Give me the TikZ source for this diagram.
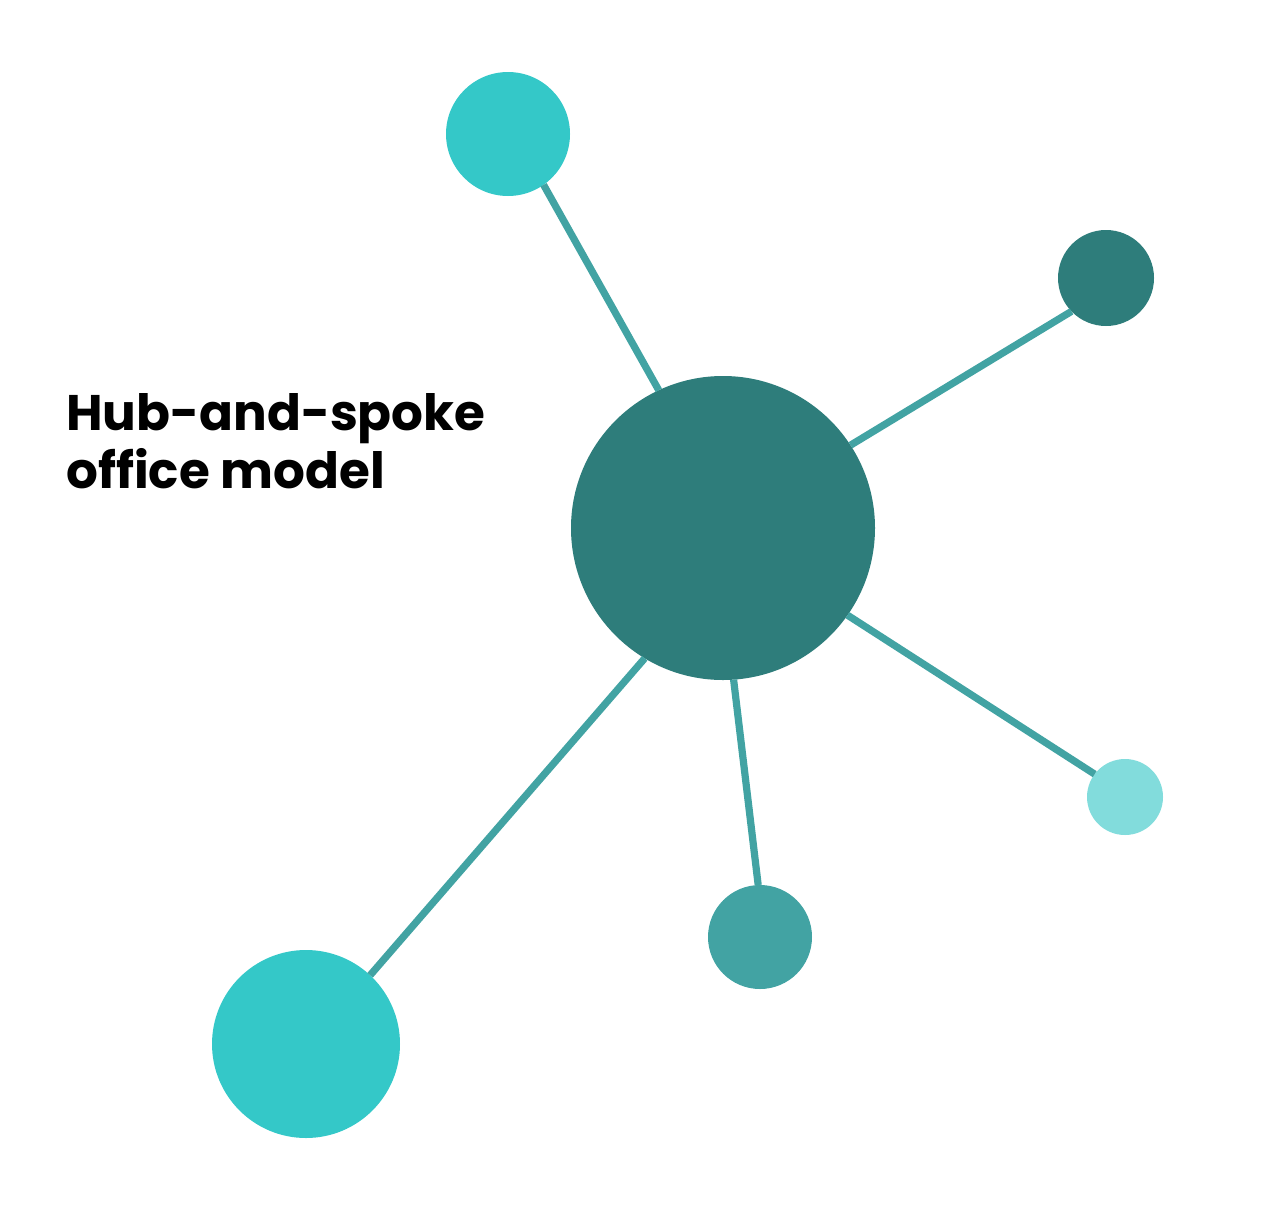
\documentclass[tikz,border=0pt]{standalone}
\usepackage{fontspec}
\setmainfont{Poppins}
\definecolor{hubdark}{HTML}{2E7D7B}
\definecolor{bright}{HTML}{34C8C8}
\definecolor{midteal}{HTML}{42A3A3}
\definecolor{lightteal}{HTML}{82DCDC}
\definecolor{spoke}{HTML}{42A3A3}
\tikzset{
  dot/.style={circle, inner sep=0pt, outer sep=0pt, draw=none},
  spokeline/.style={draw=spoke, line width=7.2pt}
}
\begin{document}
\begin{tikzpicture}[x=1pt,y=-1pt]
\useasboundingbox (0,0) rectangle (1263,1210);
\node[dot, fill=hubdark, minimum size=304pt] (hub) at (723,528) {};
\node[dot, fill=bright, minimum size=124pt] (top) at (508,134) {};
\node[dot, fill=hubdark, minimum size=96pt] (rt) at (1106,278) {};
\node[dot, fill=lightteal, minimum size=76pt] (rb) at (1125,797) {};
\node[dot, fill=midteal, minimum size=104pt] (bm) at (760,937) {};
\node[dot, fill=bright, minimum size=188pt] (bl) at (306,1044) {};
\draw[spokeline] (hub.115.6) -- (top.-55.5);
\draw[spokeline] (hub.33.6) -- (rt.-136.7);
\draw[spokeline] (hub.-35.5) -- (rb.143.7);
\draw[spokeline] (hub.-86.2) -- (bm.92.3);
\draw[spokeline] (hub.-121) -- (bl.47.1);
\node[anchor=base west, align=left, inner sep=0pt, font=\fontsize{50}{58}\selectfont\bfseries] (title) at (66,488) {Hub-and-spoke\\office model};
\end{tikzpicture}
\end{document}
